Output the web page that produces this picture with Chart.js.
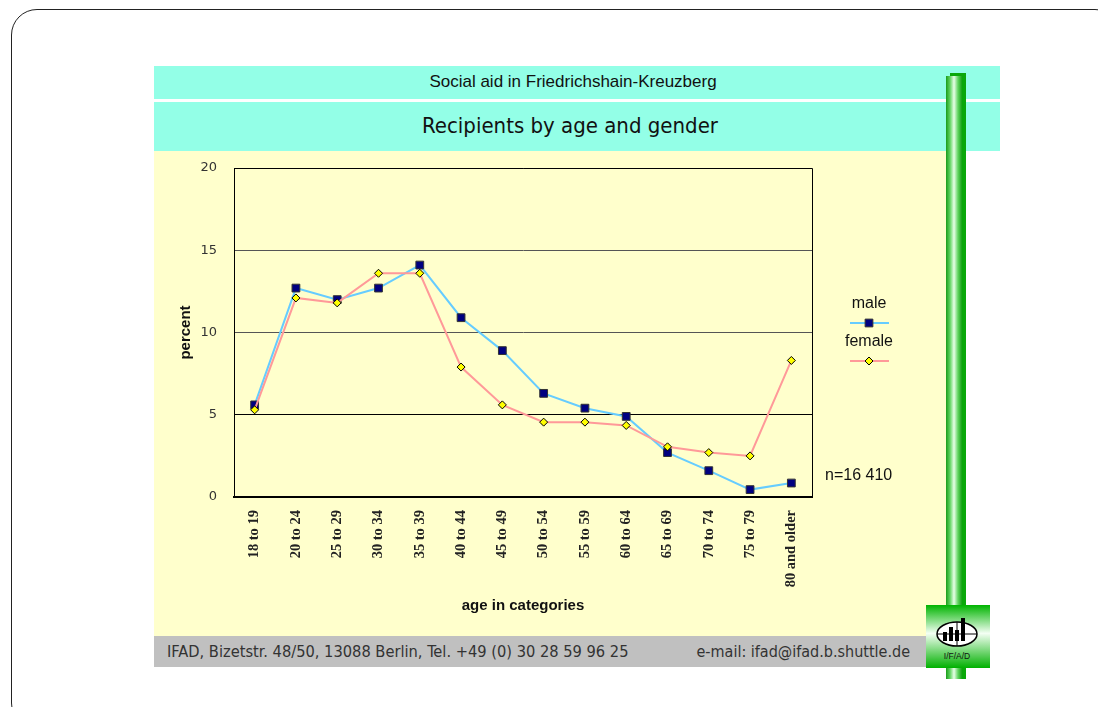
<!DOCTYPE html>
<html>
<head>
<meta charset="utf-8">
<script src="https://cdn.jsdelivr.net/npm/chart.js@4.4.1/dist/chart.umd.min.js"></script>
<style>
  html, body { margin: 0; padding: 0; background: #fff; }
  body { width: 1098px; height: 707px; position: relative; overflow: hidden; }
  .frame { position: absolute; left: 11px; top: 9px; width: 1110px; height: 720px;
           border: 1.5px solid #222; border-radius: 26px; box-sizing: border-box; }
  .band { position: absolute; left: 154px; width: 846px; background: #93ffe7;
          text-align: center; color: #111; }
  .band1 { top: 66px; height: 33px; font: 17px "Liberation Sans", Arial, sans-serif; line-height: 32px;
           padding-right: 8px; box-sizing: border-box; }
  .band2 { top: 102px; height: 49px; padding-right: 14px; box-sizing: border-box;
           font-family: "DejaVu Sans Condensed", "DejaVu Sans", sans-serif; font-stretch: condensed; font-size: 22px; line-height: 48px; }
  .plotbg { position: absolute; left: 154px; top: 151px; width: 800px; height: 485px; background: #ffffcc; }
  .footer { position: absolute; left: 154px; top: 636px; width: 772px; height: 31px; background: #c0c0c0;
            font-family: "DejaVu Sans Condensed", "DejaVu Sans", sans-serif; font-stretch: condensed; font-size: 16.3px;
            color: #333; line-height: 31px; }
  .footer .l { position: absolute; left: 13px; }
  .footer .r { position: absolute; right: 16px; font-size: 16px; }
  .barshade { position: absolute; left: 950px; top: 73px; width: 16px; height: 606px; background: #0aa80a; }
  .bar { position: absolute; left: 946px; top: 76px; width: 16px; height: 603px;
         background: linear-gradient(to right, #1a9c1a 0%, #5fd45f 25%, #e8ffe8 50%, #5fd45f 75%, #14a014 100%); }
  .logo { position: absolute; left: 926px; top: 605px; width: 64px; height: 63px; }
  #chartbox { position: absolute; left: 154px; top: 151px; }
</style>
</head>
<body>
<div class="frame"></div>
<div class="band band1">Social aid in Friedrichshain-Kreuzberg</div>
<div class="band band2">Recipients by age and gender</div>
<div class="plotbg"></div>
<div class="footer"><span class="l">IFAD, Bizetstr. 48/50, 13088 Berlin, Tel. +49 (0) 30 28 59 96 25</span><span class="r">e-mail: ifad@ifad.b.shuttle.de</span></div>
<div class="barshade"></div>
<div class="bar"></div>
<svg class="logo" viewBox="0 0 64 63" width="64" height="63">
  <defs>
    <linearGradient id="lg" x1="0" y1="0" x2="0" y2="1">
      <stop offset="0" stop-color="#00b400"/>
      <stop offset="0.45" stop-color="#f4fff4"/>
      <stop offset="1" stop-color="#00b000"/>
    </linearGradient>
  </defs>
  <rect x="0" y="0" width="64" height="63" fill="url(#lg)"/>
  <ellipse cx="31" cy="29" rx="20" ry="12" fill="#fff" stroke="#000" stroke-width="1.5"/>
  <line x1="11" y1="29" x2="51" y2="29" stroke="#000" stroke-width="1"/>
  <line x1="31" y1="17" x2="31" y2="41" stroke="#000" stroke-width="1"/>
  <rect x="17" y="27" width="4" height="9" fill="#000"/>
  <rect x="23" y="22" width="4" height="14" fill="#000"/>
  <rect x="29" y="25" width="4" height="11" fill="#000"/>
  <rect x="35" y="13" width="4" height="23" fill="#000"/>
  <text x="31" y="54" text-anchor="middle" font-family="Liberation Sans, Arial" font-size="8.5" fill="#111">I/F/A/D</text>
</svg>
<div id="chartbox"><canvas id="chart" width="791" height="485"></canvas></div>

<script>
const ageGroups = ["18 to 19", "20 to 24", "25 to 29", "30 to 34", "35 to 39", "40 to 44", "45 to 49",
  "50 to 54", "55 to 59", "60 to 64", "65 to 69", "70 to 74", "75 to 79", "80 and older"]
const malePercent = [5.6, 12.7, 12.0, 12.7, 14.1, 10.9, 8.9, 6.3, 5.4, 4.9, 2.7, 1.6, 0.45, 0.85]
const femalePercent = [5.3, 12.1, 11.8, 13.6, 13.6, 7.9, 5.6, 4.55, 4.55, 4.35, 3.05, 2.7, 2.5, 8.3]
const sampleNote = "n=16 410"

// legend + frame are drawn by hand, the old spreadsheet look has text above the symbol
const framePlugin = {
  id: "frame",
  beforeDatasetsDraw(chart) {
    const {ctx, chartArea} = chart
    ctx.save()
    ctx.strokeStyle = "#000"
    ctx.lineWidth = 1
    ctx.beginPath()
    ctx.moveTo(chartArea.left, chartArea.top + 0.5)
    ctx.lineTo(chartArea.right + 0.5, chartArea.top + 0.5)
    ctx.lineTo(chartArea.right + 0.5, chartArea.bottom)
    ctx.stroke()
    ctx.restore()
  },
  afterDraw(chart) {
    const {ctx} = chart
    ctx.save()
    ctx.font = "16px 'Liberation Sans', Arial, sans-serif"
    ctx.textAlign = "center"
    ctx.textBaseline = "middle"
    const rows = [[153, 172], [191, 210]]
    chart.data.datasets.forEach((ds, i) => {
      const [ty, ly] = rows[i]
      ctx.fillStyle = "#111"
      ctx.fillText(ds.label, 715, ty)
      ctx.strokeStyle = ds.borderColor
      ctx.lineWidth = ds.borderWidth
      ctx.beginPath()
      ctx.moveTo(696, ly)
      ctx.lineTo(735, ly)
      ctx.stroke()
      ctx.fillStyle = ds.pointBackgroundColor
      ctx.strokeStyle = ds.pointBorderColor
      ctx.lineWidth = ds.pointBorderWidth
      Chart.helpers.drawPoint(ctx, {pointStyle: ds.pointStyle, radius: ds.pointRadius, rotation: 0, borderWidth: ds.pointBorderWidth}, 715, ly)
    })
    ctx.fillStyle = "#111"
    ctx.textAlign = "left"
    ctx.fillText(sampleNote, 671, 325)
    ctx.restore()
  }
}

const ctx = document.getElementById("chart").getContext("2d")
new Chart(ctx, {
  type: "line",
  data: {
    labels: ageGroups,
    datasets: [{
      label: "male",
      data: malePercent,
      borderColor: "#66ccff",
      borderWidth: 2,
      pointStyle: "rect",
      pointRadius: 5.5,
      pointBackgroundColor: "#000080",
      pointBorderColor: "#333",
      pointBorderWidth: 1,
      tension: 0,
      order: 1
    }, {
      label: "female",
      data: femalePercent,
      borderColor: "#ff9999",
      borderWidth: 2,
      pointStyle: "rectRot",
      pointRadius: 4,
      pointBackgroundColor: "#ffff00",
      pointBorderColor: "#000",
      pointBorderWidth: 1,
      tension: 0,
      order: 0
    }]
  },
  options: {
    responsive: false,
    animation: false,
    events: [],
    layout: {padding: {left: 0, top: 17, right: 133, bottom: 0}},
    plugins: {legend: {display: false}, tooltip: {enabled: false}},
    scales: {
      x: {
        offset: true,
        grid: {display: false, drawTicks: false, offset: true},
        border: {display: true, color: "#000", width: 2},
        ticks: {
          minRotation: 90, maxRotation: 90, autoSkip: false, padding: 13,
          color: "#222",
          font: {family: "'Liberation Serif', 'Times New Roman', serif", size: 14.5, weight: "bold"}
        },
        title: {
          display: true, text: "age in categories", color: "#111",
          font: {family: "'Liberation Sans', Arial, sans-serif", size: 15, weight: "bold"},
          padding: {top: 0, bottom: 21}
        },
        afterFit: scale => { scale.height = 139 }
      },
      y: {
        min: 0, max: 20,
        grid: {drawTicks: false, color: c => c.tick.value === 5 ? "#000" : "#555", lineWidth: 1},
        border: {display: true, color: "#000", width: 1},
        ticks: {
          stepSize: 5, padding: 17, color: "#333",
          font: {family: "'DejaVu Sans', sans-serif", size: 13}
        },
        title: {
          display: true, text: "percent", color: "#111",
          font: {family: "'Liberation Sans', Arial, sans-serif", size: 15, weight: "bold"},
          padding: {top: 23, bottom: 0}
        },
        afterFit: scale => {
          scale.width = 80
          scale.paddingTop = 0
          scale.paddingBottom = 0
        }
      }
    }
  },
  plugins: [framePlugin]
})
</script>
</body>
</html>
